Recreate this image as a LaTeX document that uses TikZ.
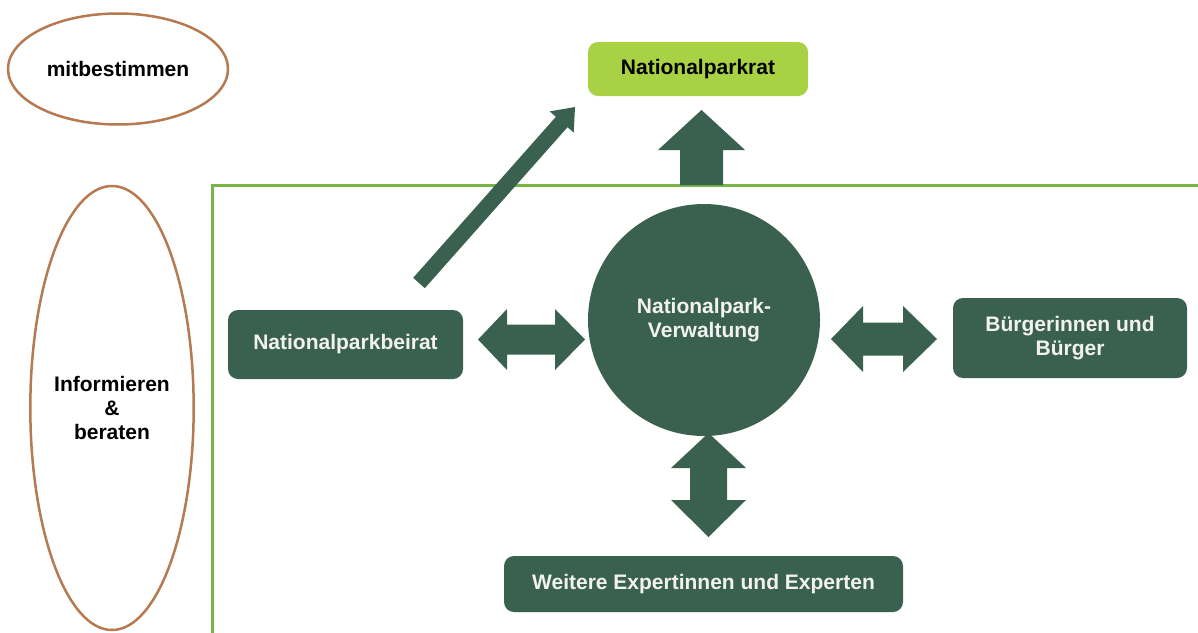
\documentclass[tikz,border=0pt]{standalone}
\usepackage{fontspec}
\setmainfont{Liberation Sans}
\usetikzlibrary{shapes.geometric}
\definecolor{dkgreen}{HTML}{3A6150}
\definecolor{lime}{HTML}{A9D144}
\definecolor{framegreen}{HTML}{7AB347}
\definecolor{brown}{HTML}{B57A4F}
\definecolor{offwhite}{HTML}{F2F2F2}
\tikzset{
  lbl/.style={font=\fontsize{21}{24}\selectfont\bfseries, align=center, inner sep=0pt},
  darkbox/.style={lbl, rectangle, rounded corners=10pt, fill=dkgreen, text=offwhite},
  limebox/.style={lbl, rectangle, rounded corners=10pt, fill=lime, text=black},
  oval/.style={lbl, ellipse, draw=brown, line width=2.5pt, text=black},
  blockarrow/.style={fill=dkgreen},
  frameline/.style={draw=framegreen, line width=3pt}
}
\begin{document}
\begin{tikzpicture}[x=1pt,y=-1pt]
\useasboundingbox (0,0) rectangle (1198,632);
% frame
\coordinate (fr) at (1198,185);
\coordinate (fc) at (212,185);
\coordinate (fb) at (212,634);
\draw[frameline] (fr) -- (fc) -- (fb);
% ovals
\node[oval, minimum width=220pt, minimum height=111pt] (mit) at (118,69) {mitbestimmen};
\node[oval, minimum width=154pt, minimum height=444pt] (inf) at (112,408) {Informieren\\\&\\beraten};
% boxes
\node[limebox, minimum width=220pt, minimum height=54pt] (rat) at (698,69) {Nationalparkrat};
\node[darkbox, minimum width=235pt, minimum height=69pt] (beirat) at (345.5,344.5) {Nationalparkbeirat};
\node[darkbox, minimum width=234pt, minimum height=80pt] (buerger) at (1070,338) {B\"urgerinnen und\\B\"urger};
\node[darkbox, minimum width=399pt, minimum height=56pt] (experten) at (703.5,584) {Weitere Expertinnen und Experten};
\node[lbl, circle, fill=dkgreen, text=offwhite, minimum size=232pt] (verw) at (704,320) {Nationalpark-\\Verwaltung};
% up arrow to Nationalparkrat
\fill[blockarrow] (701.5,110) -- (745,150) -- (723,150) -- (723,185) -- (680,185) -- (680,150) -- (658,150) -- cycle;
% diagonal arrow
\fill[blockarrow] (424.8,288.2) -- (413.2,277.8) -- (555.9,116.8) -- (549.7,111.4) -- (575,107) -- (573.7,132.6) -- (567.5,127.2) -- cycle;
% left double arrow
\fill[blockarrow] (478,339.5) -- (507,309) -- (507,324.5) -- (555,324.5) -- (555,309) -- (585,339.5) -- (555,370) -- (555,354.5) -- (507,354.5) -- (507,370) -- cycle;
% right double arrow
\fill[blockarrow] (831,339) -- (863,306) -- (863,322.5) -- (903,322.5) -- (903,306) -- (937,339) -- (903,372) -- (903,355.5) -- (863,355.5) -- (863,372) -- cycle;
% bottom double arrow
\fill[blockarrow] (708.5,433) -- (746,468) -- (727,468) -- (727,500) -- (746,500) -- (708.5,537) -- (671,500) -- (690,500) -- (690,468) -- (671,468) -- cycle;
\end{tikzpicture}
\end{document}
